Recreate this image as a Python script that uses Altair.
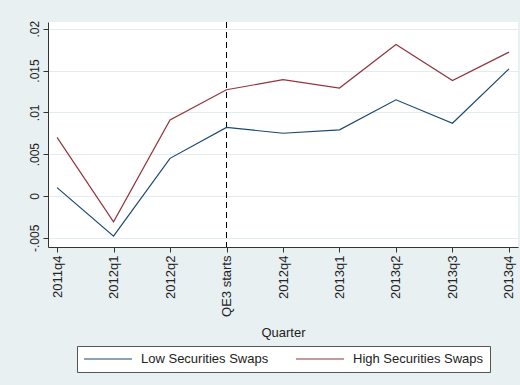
import altair as alt
import pandas as pd

# Quarterly values for the two groups of banks
quarters = ["2011q4", "2012q1", "2012q2", "QE3 starts", "2012q4",
            "2013q1", "2013q2", "2013q3", "2013q4"]
low_swaps = [0.0010, -0.0048, 0.0045, 0.0082, 0.0075, 0.0079, 0.0115, 0.0087, 0.0152]
high_swaps = [0.0070, -0.0031, 0.0091, 0.0127, 0.0139, 0.0129, 0.0181, 0.0138, 0.0172]

series_names = ["Low Securities Swaps", "High Securities Swaps"]
series_colors = ["#1A476F", "#90353B"]
y_ticks = [-0.005, 0, 0.005, 0.01, 0.015, 0.02]
event_quarter = "QE3 starts"

FONT = "Liberation Sans"
BG = "#E8F0F2"

rows = []
for name, vals in zip(series_names, [low_swaps, high_swaps]):
    for q, v in zip(quarters, vals):
        rows.append({"quarter": q, "value": v, "series": name})
df = pd.DataFrame(rows)

x_enc = alt.X(
    "quarter:N",
    sort=quarters,
    scale=alt.Scale(type="point", padding=0.16),
    axis=alt.Axis(
        title="Quarter",
        labelAngle=270,
        labelAlign="right",
        labelBaseline="middle",
        labelFontSize=13,
        labelPadding=3,
        tickSize=5,
        titleFontSize=13,
        titleFontWeight="normal",
        titlePadding=10,
        grid=False,
    ),
)

y_enc = alt.Y(
    "value:Q",
    scale=alt.Scale(domain=[-0.0061, 0.0208], nice=False, zero=False),
    axis=alt.Axis(
        title=None,
        values=y_ticks,
        labelExpr="datum.value == 0 ? '0' : replace(toString(datum.value), '0.', '.')",
        labelAngle=270,
        labelAlign="center",
        labelBaseline="bottom",
        labelFontSize=12,
        labelPadding=2,
        tickSize=5,
        grid=True,
        gridColor="#E2EBEE",
        gridWidth=1,
    ),
)

lines = alt.Chart(df).mark_line(strokeWidth=1.2).encode(
    x=x_enc,
    y=y_enc,
    color=alt.Color(
        "series:N",
        sort=series_names,
        scale=alt.Scale(domain=series_names, range=series_colors),
        legend=alt.Legend(
            title=None,
            orient="none",
            legendX=29,
            legendY=324,
            direction="horizontal",
            symbolType="M-1,0H7",
            symbolSize=144,
            symbolStrokeWidth=1.2,
            labelOffset=44,
            labelFontSize=13,
            labelFont=FONT,
            labelColor="#222222",
            columnPadding=24,
            padding=6,
            strokeColor="#555555",
            fillColor="white",
        ),
    ),
)

event_rule = alt.Chart(pd.DataFrame({"quarter": [event_quarter]})).mark_rule(
    color="black", strokeDash=[6, 4], strokeWidth=1
).encode(x=alt.X("quarter:N", sort=quarters))

chart = (
    alt.layer(event_rule, lines)
    .properties(
        width=470,
        height=225,
        background=BG,
        padding={"left": 48, "top": 22, "right": 2, "bottom": 138},
        autosize=alt.AutoSizeParams(type="none"),
    )
    .configure_view(fill="white", stroke=None)
    .configure_axis(
        labelFont=FONT,
        titleFont=FONT,
        labelColor="#222222",
        titleColor="#222222",
        domainColor="#333333",
        tickColor="#333333",
        domainWidth=1,
        tickWidth=1,
    )
)

chart.save("out.html", embed_options={"renderer": "svg", "actions": False})
